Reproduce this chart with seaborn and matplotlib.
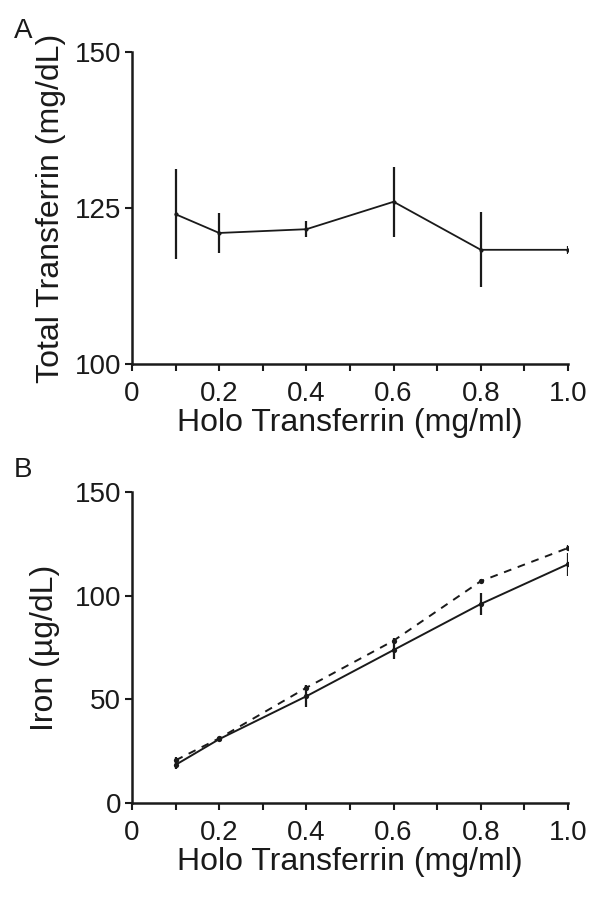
import numpy as np
import pandas as pd
import matplotlib
matplotlib.use("Agg")
import matplotlib.pyplot as plt
import seaborn as sns
from matplotlib.ticker import FixedLocator, FuncFormatter

# Panel A: total transferrin vs holo transferrin
dose_a = [0.1, 0.2, 0.4, 0.6, 0.8, 1.0]
total_tf = [124.0, 121.0, 121.6, 126.0, 118.3, 118.3]
total_tf_err = [7.2, 3.2, 1.3, 5.6, 6.0, 0.6]

# Panel B: iron, two series
dose_b = [0.1, 0.2, 0.4, 0.6, 0.8, 1.0]
iron_solid = [18.4, 30.8, 51.5, 73.8, 96.0, 115.2]
iron_solid_err = [2.2, 1.0, 5.2, 4.2, 5.2, 5.5]
iron_dash = [20.6, 31.2, 55.6, 78.3, 107.0, 123.0]
iron_dash_err = [1.6, 0.8, 1.2, 1.2, 1.0, 1.2]

sns.set_theme(style="ticks")
plt.rcParams['font.family'] = ['Liberation Sans', 'DejaVu Sans']

fig = plt.figure(figsize=(6.02, 8.97), dpi=100)
ax_a = fig.add_axes([132 / 602, 1 - 364 / 897, 436 / 602, 312 / 897])
ax_b = fig.add_axes([132 / 602, 1 - 803 / 897, 436 / 602, 311 / 897])

ink = '#1a1a1a'

df_a = pd.DataFrame({'dose': dose_a, 'val': total_tf})
sns.lineplot(data=df_a, x='dose', y='val', ax=ax_a, color=ink, lw=1.3,
             marker='o', markersize=3, markeredgewidth=0)
ax_a.errorbar(dose_a, total_tf, yerr=total_tf_err, fmt='none',
              ecolor=ink, elinewidth=1.6, capsize=0)

df_b = pd.DataFrame({'dose': dose_b * 2,
                     'val': iron_solid + iron_dash,
                     'series': ['solid'] * 6 + ['dash'] * 6})
sns.lineplot(data=df_b, x='dose', y='val', style='series', ax=ax_b,
             color=ink, lw=1.4, markers=['o', 'o'], markersize=3.8,
             markeredgewidth=0, dashes={'solid': '', 'dash': (4, 3.5)},
             legend=False)
ax_b.errorbar(dose_b, iron_solid, yerr=iron_solid_err, fmt='none',
              ecolor=ink, elinewidth=1.6, capsize=0)
ax_b.errorbar(dose_b, iron_dash, yerr=iron_dash_err, fmt='none',
              ecolor=ink, elinewidth=1.6, capsize=0)

tick_fs = 20
lab_fs = 23
for ax in (ax_a, ax_b):
    ax.set_xlim(0, 1.0)
    ax.xaxis.set_major_locator(FixedLocator(np.round(np.arange(0, 1.01, 0.1), 1)))
    ax.xaxis.set_major_formatter(FuncFormatter(
        lambda v, p: '' if round(v * 10) % 2 else ('0' if v == 0 else f'{v:.1f}')))
    ax.set_xlabel('Holo Transferrin (mg/ml)', fontsize=lab_fs, labelpad=1)
    ax.tick_params(axis='both', direction='out', length=5, width=1.5,
                   labelsize=tick_fs, color=ink, labelcolor=ink, pad=3)
    ax.tick_params(axis='x', pad=7)
    for s in ('top', 'right'):
        ax.spines[s].set_visible(False)
    for s in ('left', 'bottom'):
        ax.spines[s].set_linewidth(1.8)
        ax.spines[s].set_color(ink)
    ax.set_facecolor('white')
    ax.xaxis.label.set_color(ink)
    ax.yaxis.label.set_color(ink)

ax_a.set_ylim(100, 150)
ax_a.set_yticks([100, 125, 150])
ax_a.set_ylabel('Total Transferrin (mg/dL)', fontsize=lab_fs, labelpad=6)

ax_b.set_ylim(0, 150)
ax_b.set_yticks([0, 50, 100, 150])
ax_b.set_ylabel('Iron (µg/dL)', fontsize=lab_fs, labelpad=10)

fig.text(14 / 602, 1 - 38 / 897, 'A', fontsize=20, color=ink)
fig.text(14 / 602, 1 - 477 / 897, 'B', fontsize=20, color=ink)

fig.savefig('out.png', dpi=100, facecolor='white')
